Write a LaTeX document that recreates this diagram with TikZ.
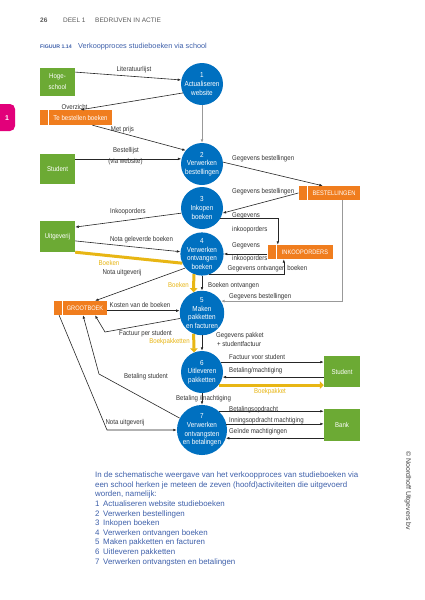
\documentclass[tikz,border=0pt]{standalone}
\usepackage{fontspec}
\setmainfont{Liberation Sans}
\newfontfamily\condfont[FakeStretch=0.87]{Liberation Sans}
\usetikzlibrary{arrows.meta,calc}
\definecolor{grn}{RGB}{108,170,52}
\definecolor{cblue}{RGB}{0,112,192}
\definecolor{org}{RGB}{240,125,30}
\definecolor{ylw}{RGB}{232,182,20}
\definecolor{pnk}{RGB}{226,0,122}
\definecolor{tblue}{RGB}{62,96,170}
\definecolor{hgray}{RGB}{90,90,90}
\tikzset{
  lbl/.style={font=\condfont\fontsize{7}{8}\selectfont, text=black!80, inner sep=0pt},
  ylbl/.style={lbl, text=ylw},
  gbox/.style={fill=grn, text=white, font=\condfont\fontsize{7}{11}\selectfont, align=center, inner sep=0pt, minimum width=35, minimum height=30},
  obox/.style={fill=org, text=white, font=\condfont\fontsize{6.5}{8}\selectfont, inner sep=0pt, minimum height=14},
  otab/.style={fill=org, inner sep=0pt, minimum height=14, minimum width=8},
  circ/.style={circle, fill=cblue, text=white, minimum size=42, inner sep=0pt, align=center, font=\condfont\fontsize{7.3}{8.7}\selectfont},
  arr/.style={draw=black!85, line width=0.6pt, -{Latex[length=3.5pt,width=2.6pt]}},
  garr/.style={draw=black!40, line width=1pt, -{Latex[length=3.5pt,width=2.8pt]}},
  yarr/.style={draw=ylw, line width=3pt, -{Triangle[length=4pt,width=7.5pt]}},
  yline/.style={draw=ylw, line width=3pt},
}
\begin{document}
\begin{tikzpicture}[x=1pt,y=-1pt]
\useasboundingbox[fill=white] (0,0) rectangle (425,600);

% header
\node[anchor=west, inner sep=0pt, text=hgray, font=\bfseries\fontsize{6.5}{8}\selectfont] (pg) at (40,20) {26};
\node[anchor=west, inner sep=0pt, text=hgray, font=\fontsize{6.5}{8}\selectfont] (deel) at (63,20) {DEEL 1};
\node[anchor=west, inner sep=0pt, text=hgray, font=\fontsize{6.5}{8}\selectfont] (bia) at (95,20) {BEDRIJVEN IN ACTIE};
\node[anchor=west, inner sep=0pt, text=tblue, font=\bfseries\fontsize{5.2}{7}\selectfont] (fig) at (40,47) {FIGUUR 1.14};
\node[anchor=west, inner sep=0pt, text=tblue, font=\fontsize{7.3}{9}\selectfont] (figt) at (78,47) {Verkoopproces studieboeken via school};

% pink tab
\fill[pnk, rounded corners=5pt] (-6,104) rectangle (15,131);
\node[text=white, font=\bfseries\fontsize{7}{8}\selectfont, inner sep=0pt] (tab1) at (7,118) {1};

% green boxes
\node[gbox, minimum height=28] (hs) at (57.5,81.5) {Hoge-\\school};
\node[gbox] (st1) at (57.5,168.5) {Student};
\node[gbox, minimum height=31] (uit) at (57.5,236.5) {Uitgeverij};
\node[gbox, minimum width=36, minimum height=31] (st2) at (342,371.5) {Student};
\node[gbox, minimum width=36, minimum height=32] (bank) at (342,425) {Bank};

% orange boxes
\node[obox, minimum width=63, minimum height=15, font=\condfont\fontsize{7}{8}\selectfont] (tb) at (80.5,117.5) {Te bestellen boeken};
\node[otab, minimum height=15, anchor=east] (tbtab) at ([xshift=-1pt]tb.west) {};
\node[obox, minimum width=52] (best) at (334,193) {BESTELLINGEN};
\node[otab, anchor=east] (btab) at ([xshift=-1pt]best.west) {};
\node[obox, minimum width=56] (ink) at (305,252) {INKOOPORDERS};
\node[otab, anchor=east] (itab) at ([xshift=-1pt]ink.west) {};
\node[obox, minimum width=44] (gb) at (85,308) {GROOTBOEK};
\node[otab, anchor=east] (gtab) at ([xshift=-1pt]gb.west) {};

% circles
\node[circ] (c1) at (202,84) {1\\Actualiseren\\website};
\node[circ] (c2) at (202,164) {2\\Verwerken\\bestellingen};
\node[circ] (c3) at (202,208) {3\\Inkopen\\boeken};
\node[circ] (c4) at (202,254) {4\\Verwerken\\ontvangen\\boeken};
\node[circ] (c5) at (202,313) {5\\Maken\\pakketten\\en facturen};
\node[circ] (c6) at (202,372) {6\\Uitleveren\\pakketten};
\node[circ] (c7) at (202,430) {7\\Verwerken\\ontvangsten\\en betalingen};

% bend coordinates
\coordinate (b1) at (105,332);
\coordinate (b2) at (99,374);
\coordinate (b3) at (107,430);

% connectors
\draw[arr] (hs.28) -- (c1.169);
\draw[arr] (c1.205) -- (tb.north);
\draw[arr] ([xshift=12pt]tb.south) -- (c2.140);
\draw[garr] (c1.south) -- (c2.north);
\draw[arr] (st1.east |- c2.166) -- (c2.166);
\draw[arr] (c2.5) -- ([xshift=15pt]best.north west);
\draw[arr] (btab.west) -- (c3.346);
\draw[arr] (c3.194) -- (uit.28);
\draw[arr] (c3.-30) -| ([xshift=1pt]ink.north west);
\draw[arr] (itab.west |- c4.east) -- (c4.east);
\draw[arr] (c4.288) -| ([xshift=7pt]ink.south west);
\draw[garr] ([xshift=8pt]best.south) |- (c5.32);
\draw[arr] (uit.-14) -- (c4.174);
\draw[yline] (uit.south east) -- (c4.205);
\draw[arr] (c4.220) -- ([xshift=10pt]gb.north);
\draw[yarr] (c4.248) -- (c5.112);
\draw[arr] (c4.south) -- (c5.north);
\draw[arr] (gb.east |- c5.174) -- (c5.174);
\draw[arr] (c5.194) -- (b1) -- ([xshift=10pt]gb.south);
\draw[yarr] (c5.248) -- (c6.112);
\draw[arr] (c5.south) -- (c6.north);
\draw[arr] (c6.28) -- (c6.28 -| st2.west);
\draw[arr] (st2.west |- c6.-14) -- (c6.-14);
\draw[yarr] (c6.-38) -- (c6.-38 -| st2.west);
\draw[arr] (c7.152) -- (b2) -- ([xshift=-2pt]gb.south);
\draw[arr] ([xshift=1.5pt]gtab.south) -- (b3) -- (c7.west);
\draw[arr] (c6.south) -- (c7.north);
\draw[arr] (c7.48) -- (c7.48 -| bank.west);
\draw[arr] (c7.14) -- (c7.14 -| bank.west);
\draw[arr] (bank.west |- c7.-19) -- (c7.-19);

% labels
\node[lbl] (l1) at (134,70) {Literatuurlijst};
\node[lbl] (l2) at (74.5,107) {Overzicht};
\node[lbl] (l3) at (122.5,130) {Met prijs};
\node[lbl] (l4) at (126,150.7) {Bestellijst};
\node[lbl] (l5) at (125.5,162) {(via website)};
\node[lbl, anchor=west] (l6) at (232,159) {Gegevens bestellingen};
\node[lbl, anchor=west] (l7) at (232,191.5) {Gegevens bestellingen};
\node[lbl] (l8) at (128,212) {Inkooporders};
\node[lbl, anchor=west] (l9) at (232,215.7) {Gegevens};
\node[lbl, anchor=west] (l10) at (232,230) {inkooporders};
\node[lbl, anchor=west] (l11) at (232,245.5) {Gegevens};
\node[lbl, anchor=west] (l12) at (232,259) {inkooporders};
\node[lbl] (l13) at (267.5,269) {Gegevens ontvangen boeken};
\node[lbl, anchor=west] (l14) at (229,297) {Gegevens bestellingen};
\node[lbl] (l15) at (141.5,240) {Nota geleverde boeken};
\node[ylbl] (l16) at (109,263) {Boeken};
\node[lbl] (l17) at (122,273) {Nota uitgeverij};
\node[ylbl] (l18) at (178.5,285) {Boeken};
\node[lbl, anchor=west] (l19) at (208,286) {Boeken ontvangen};
\node[lbl] (l20) at (140,305) {Kosten van de boeken};
\node[lbl] (l21) at (145.5,334) {Factuur per student};
\node[ylbl] (l22) at (169.5,342) {Boekpakketten};
\node[lbl, anchor=west] (l23) at (216,336) {Gegevens pakket};
\node[lbl, anchor=west] (l24) at (217,344) {+ studentfactuur};
\node[lbl, anchor=west] (l25) at (229,357) {Factuur voor student};
\node[lbl, anchor=west] (l26) at (229,370.5) {Betaling/machtiging};
\node[ylbl] (l27) at (270,392) {Boekpakket};
\node[lbl] (l28) at (146,377) {Betaling student};
\node[lbl] (l29) at (203.5,399) {Betaling /machtiging};
\node[lbl] (l30) at (125,423) {Nota uitgeverij};
\node[lbl, anchor=west] (l31) at (229,410) {Betalingsopdracht};
\node[lbl, anchor=west] (l32) at (229,420.5) {Inningsopdracht machtiging};
\node[lbl, anchor=west] (l33) at (229,432) {Geïnde machtigingen};

% bottom text
\node[anchor=north west, inner sep=0pt, align=left, text=tblue, font=\fontsize{7.9}{9.65}\selectfont] (txt) at (95,471.5) {%
In de schematische weergave van het verkoopproces van studieboeken via\\
een school herken je meteen de zeven (hoofd)activiteiten die uitgevoerd\\
worden, namelijk:\\
\makebox[8pt][l]{1}Actualiseren website studieboeken\\
\makebox[8pt][l]{2}Verwerken bestellingen\\
\makebox[8pt][l]{3}Inkopen boeken\\
\makebox[8pt][l]{4}Verwerken ontvangen boeken\\
\makebox[8pt][l]{5}Maken pakketten en facturen\\
\makebox[8pt][l]{6}Uitleveren pakketten\\
\makebox[8pt][l]{7}Verwerken ontvangsten en betalingen};

% copyright
\node[rotate=-90, inner sep=0pt, text=black!75, font=\fontsize{7}{8}\selectfont] (copy) at (408,491) {© Noordhoff Uitgevers bv};
\end{tikzpicture}
\end{document}
